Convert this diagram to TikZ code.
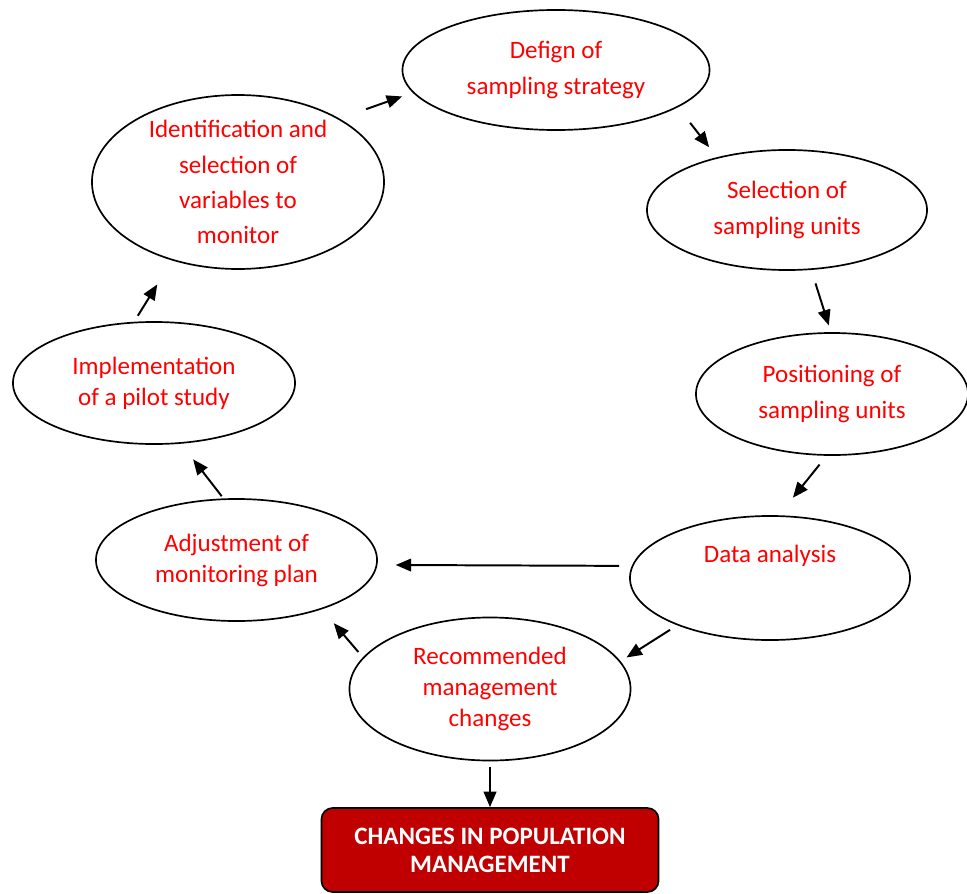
\documentclass[tikz,border=0pt]{standalone}
\usepackage{fontspec}
\setmainfont{Carlito}
\usetikzlibrary{arrows.meta,shapes.geometric}
\definecolor{boxred}{HTML}{C00000}

\begin{document}
\begin{tikzpicture}[x=0.025cm, y=-0.025cm, >={Triangle[length=11pt,width=9pt]},
    stage/.style={ellipse, draw, line width=1.2pt, inner sep=0pt, text=red, align=center,
        font=\fontsize{17.8}{25}\selectfont},
    tight/.style={font=\fontsize{17.8}{22}\selectfont},
    flow/.style={->, line width=1.4pt}]
    \useasboundingbox (0,0) rectangle (967,894);

    \node[stage, minimum width=7.675cm, minimum height=3.0cm] (design) at (556,70) {Defign of\\sampling strategy};
    \node[stage, minimum width=7.3cm, minimum height=4.05cm] (ident) at (238,182)
        {Identification and\\selection of\\variables to\\monitor};
    \node[stage, minimum width=7.0cm, minimum height=3.0cm] (select) at (787,210) {Selection of\\sampling units};
    \node[stage, minimum width=6.8cm, minimum height=3.05cm] (posit) at (832,394) {Positioning of\\sampling units};
    \node[stage, tight, minimum width=7.05cm, minimum height=3.05cm] (pilot) at (154,383)
        {Implementation\\of a pilot study};
    \node[stage, minimum width=7.0cm, minimum height=3.1cm,
        label={[text=red, font=\fontsize{17.8}{25}\selectfont, yshift=16pt]center:Data analysis}] (data) at (770,578) {};
    \node[stage, tight, minimum width=7.025cm, minimum height=3.05cm] (adjust) at (236.5,560)
        {Adjustment of\\monitoring plan};
    \node[stage, tight, minimum width=7.025cm, minimum height=3.575cm] (recom) at (490,689)
        {Recommended\\management\\changes};

    \node[draw, line width=1.2pt, fill=boxred, rounded corners=8pt, minimum width=8.425cm, minimum height=2.1cm,
        text=white, align=center, font=\bfseries\fontsize{17.8}{20}\selectfont] (change) at (490,850)
        {CHANGES IN POPULATION\\MANAGEMENT};

    \draw[flow, shorten <=20pt, shorten >=8pt] (ident.32) -- (design.189);
    \draw[flow, shorten <=14pt, shorten >=9pt] (design.-17) -- (select.143);
    \draw[flow, shorten <=10pt, shorten >=5pt] (select.-68) -- (posit.91);
    \draw[flow, shorten <=8pt, shorten >=16pt] (posit.265) -- (data.82);
    \draw[flow, shorten <=9pt, shorten >=13pt] (data.175) -- (adjust.-2.5);
    \draw[flow, shorten <=6pt, shorten >=5pt] (data.207) -- (recom.12);
    \draw[flow, shorten <=5pt, shorten >=13pt] (recom.166) -- (adjust.-30);
    \draw[flow, shorten <=2pt, shorten >=14pt] (adjust.102) -- (pilot.-66);
    \draw[flow, shorten <=5pt, shorten >=20pt] (pilot.108) -- (ident.230);
    \draw[flow, shorten <=4pt] (recom.south) -- (change.north);
\end{tikzpicture}
\end{document}
